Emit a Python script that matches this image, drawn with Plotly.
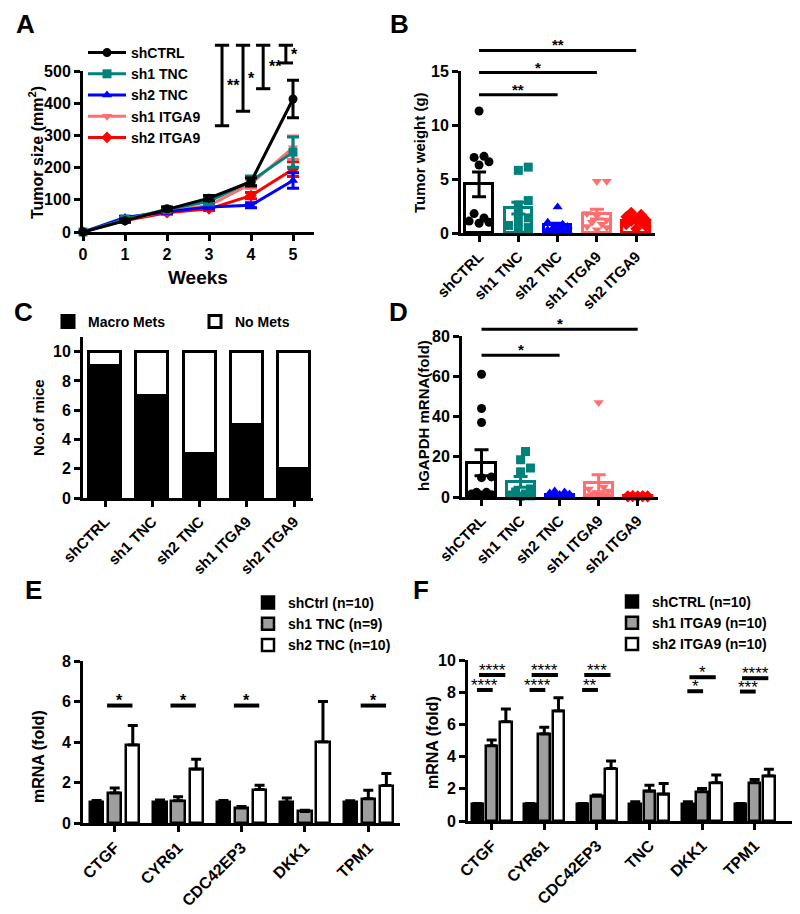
import plotly.graph_objects as go

W, H = 800, 914
FONT = "Liberation Sans, Arial, Helvetica, sans-serif"

# ---------------- shared group definitions ----------------
groups = ["shCTRL", "sh1 TNC", "sh2 TNC", "sh1 ITGA9", "sh2 ITGA9"]
group_colors = ["#000000", "#00827C", "#0000FF", "#FF6F6F", "#FF0000"]
group_symbols = ["circle", "square", "triangle-up", "triangle-down", "diamond"]

# ---------------- Panel A: tumor growth ----------------
weeks = [0, 1, 2, 3, 4, 5]
a_shCTRL = [0, 35, 72, 105, 156, 413]
a_sh1TNC = [0, 40, 70, 95, 158, 248]
a_sh2TNC = [0, 45, 63, 78, 83, 160]
a_sh1ITGA9 = [0, 38, 65, 82, 150, 262]
a_sh2ITGA9 = [0, 36, 60, 72, 113, 195]
a_sem_shCTRL = [0, 5, 6, 8, 12, 58]
a_sem_sh1TNC = [0, 5, 6, 10, 16, 47]
a_sem_sh2TNC = [0, 4, 5, 6, 8, 24]
a_sem_sh1ITGA9 = [0, 4, 5, 6, 14, 36]
a_sem_sh2ITGA9 = [0, 4, 5, 5, 10, 23]
a_sig_x = [3.31, 3.81, 4.29, 4.83]
a_sig_low = [330, 375, 445, 525]
a_sig_high = [580, 580, 580, 580]
a_sig_text = ["**", "*", "**", "*"]

# ---------------- Panel B: tumor weight ----------------
b_shCTRL = [11.3, 7.1, 7.0, 6.6, 6.3, 1.8, 1.4, 1.1, 1.0, 0.9]
b_sh1TNC = [6.1, 5.8, 3.0, 2.6, 1.8, 1.4, 1.0, 0.7, 0.5, 0.3]
b_sh2TNC = [2.4, 1.0, 0.8, 0.6, 0.5, 0.4, 0.3, 0.3, 0.2, 0.2]
b_sh1ITGA9 = [4.8, 4.8, 1.8, 1.6, 1.2, 1.0, 0.8, 0.6, 0.5, 0.3]
b_sh2ITGA9 = [1.9, 1.7, 1.5, 1.3, 1.2, 1.1, 1.0, 0.8, 0.6, 0.4]
b_mean = [4.5, 2.3, 0.7, 1.75, 1.15]
b_sem = [1.15, 0.55, 0.2, 0.45, 0.2]
b_sig_to = [2, 3, 4]
b_sig_y = [12.8, 14.85, 16.9]
b_sig_text = ["**", "*", "**"]

# ---------------- Panel C: metastases ----------------
c_macro = [9, 7, 3, 5, 2]
c_nomets = [1, 3, 7, 5, 8]

# ---------------- Panel D: hGAPDH ----------------
d_shCTRL = [61, 44, 37, 10, 9.6, 2.3, 2.3, 1.5, 1.1, 1.0]
d_sh1TNC = [22.6, 18.5, 14.4, 12.5, 4.0, 2.5, 1.5, 1.0, 0.6, 0.4]
d_sh2TNC = [3.0, 2.5, 2.0, 1.5, 1.2, 1.0, 0.8, 0.6, 0.4, 0.3]
d_sh1ITGA9 = [47, 5, 4, 3, 2, 1.5, 1.0, 0.8, 0.5, 0.3]
d_sh2ITGA9 = [0.6, 0.5, 0.5, 0.4, 0.4, 0.3, 0.3, 0.2, 0.2, 0.1]
d_mean = [17, 7.5, 1.1, 6.8, 0.35]
d_sem = [6.5, 2.7, 0.3, 4.2, 0.1]
d_sig_to = [2, 4]
d_sig_y = [70.4, 83.3]
d_sig_text = ["*", "*"]

# ---------------- Panel E: TNC knockdown qPCR ----------------
e_genes = ["CTGF", "CYR61", "CDC42EP3", "DKK1", "TPM1"]
e_series = ["shCtrl (n=10)", "sh1 TNC (n=9)", "sh2 TNC (n=10)"]
e_shCtrl = [1.05, 1.05, 1.05, 1.02, 1.05]
e_shCtrl_sem = [0.06, 0.08, 0.06, 0.22, 0.05]
e_sh1TNC = [1.48, 1.1, 0.74, 0.57, 1.2]
e_sh1TNC_sem = [0.25, 0.2, 0.07, 0.06, 0.42]
e_sh2TNC = [3.85, 2.65, 1.65, 4.0, 1.85]
e_sh2TNC_sem = [0.97, 0.5, 0.22, 2.0, 0.6]
e_sig_gene = [0, 1, 2, 4]
e_sig_y = [5.8, 5.8, 5.8, 5.8]
e_sig_text = ["*", "*", "*", "*"]

# ---------------- Panel F: ITGA9 knockdown qPCR ----------------
f_genes = ["CTGF", "CYR61", "CDC42EP3", "TNC", "DKK1", "TPM1"]
f_series = ["shCTRL (n=10)", "sh1 ITGA9 (n=10)", "sh2 ITGA9 (n=10)"]
f_shCTRL = [1.04, 1.04, 1.04, 1.04, 1.03, 1.05]
f_shCTRL_sem = [0.04, 0.04, 0.04, 0.16, 0.17, 0.03]
f_sh1ITGA9 = [4.67, 5.4, 1.54, 1.85, 1.81, 2.37]
f_sh1ITGA9_sem = [0.36, 0.42, 0.07, 0.37, 0.21, 0.21]
f_sh2ITGA9 = [6.17, 6.83, 3.26, 1.66, 2.37, 2.8]
f_sh2ITGA9_sem = [0.79, 0.83, 0.46, 0.67, 0.48, 0.42]
f_sig_gene = [0, 0, 1, 1, 2, 2, 4, 4, 5, 5]
f_sig_kind = ["low", "up", "low", "up", "low", "up", "low", "up", "low", "up"]
f_sig_y = [8.14, 9.07, 8.14, 9.07, 8.14, 9.07, 8.06, 8.93, 8.04, 8.87]
f_sig_text = ["****", "****", "****", "****", "**", "***", "*", "*", "***", "****"]

# ---------------- layout helpers ----------------
def xdom(left, right):
    return [left / W, right / W]


def ydom(top, bottom):
    return [1 - bottom / H, 1 - top / H]


def axis(tsize=15, **kw):
    d = dict(showline=True, linecolor="black", linewidth=3, ticks="outside",
             ticklen=6, tickwidth=3, tickcolor="black", showgrid=False,
             zeroline=False, fixedrange=True, automargin=False,
             tickfont=dict(family=FONT, size=tsize, color="black", weight="bold"))
    d.update(kw)
    return d


# panel geometry (pixel boxes) and value ranges
A_box = dict(x=(83, 314), y=(71, 232))
B_box = dict(x=(461, 655), y=(71, 233))
C_box = dict(x=(83, 313), y=(337, 498))
D_box = dict(x=(462, 658), y=(336, 497))
E_box = dict(x=(83, 400), y=(661, 823))
F_box = dict(x=(468, 792), y=(660, 821))

A_xr, A_yr = [0, 5.5], [0, 500]
B_xr, B_yr = [-0.46, 4.48], [0, 15]
C_xr, C_yr = [-0.47, 4.4], [0, 11]
D_xr, D_yr = [-0.5, 4.52], [0, 80]
E_xr, E_yr = [-0.5, 4.5], [0, 8]
F_xr, F_yr = [-0.45, 5.71], [0, 10]


def px_per_unit(box, rng, key):
    a, b = box[key]
    return (b - a) / (rng[1] - rng[0])


def swarm(vals, ppy, ppx, msize=9.0, maxoff=0.3):
    """Deterministic beeswarm offsets (in category units) for a column of points."""
    order = sorted(range(len(vals)), key=lambda i: vals[i])
    placed = []
    offs = [0.0] * len(vals)
    step = msize * 0.55
    cands = [0.0]
    for j in range(1, 30):
        cands += [j * step, -j * step]
    cands = [c for c in cands if abs(c) / ppx <= maxoff]
    for i in order:
        y = vals[i] * ppy
        best, bestd = 0.0, -1
        for c in cands:
            dmin = min([((c - px) ** 2 + (y - py) ** 2) ** 0.5 for px, py in placed] or [1e9])
            if dmin >= msize * 0.95:
                best = c
                break
            if dmin > bestd:
                bestd, best = dmin, c
        placed.append((best, y))
        offs[i] = best / ppx
    return offs


fig = go.Figure()

# ---------------- Panel A traces ----------------
a_vals = [a_shCTRL, a_sh1TNC, a_sh2TNC, a_sh1ITGA9, a_sh2ITGA9]
a_sems = [a_sem_shCTRL, a_sem_sh1TNC, a_sem_sh2TNC, a_sem_sh1ITGA9, a_sem_sh2ITGA9]
draw_order = [4, 3, 2, 1, 0]
for gi in draw_order:
    fig.add_trace(go.Scatter(
        x=weeks, y=a_vals[gi], mode="lines+markers", name=groups[gi],
        line=dict(color=group_colors[gi], width=3),
        marker=dict(symbol=group_symbols[gi], color=group_colors[gi], size=9),
        error_y=dict(type="data", array=a_sems[gi], color=group_colors[gi],
                     thickness=3, width=6),
        xaxis="x", yaxis="y", legend="legend", legendrank=gi + 1,
        cliponaxis=False,
    ))

# ---------------- Panel B traces ----------------
b_vals = [b_shCTRL, b_sh1TNC, b_sh2TNC, b_sh1ITGA9, b_sh2ITGA9]
for gi in range(5):
    fig.add_trace(go.Bar(
        x=[gi], y=[b_mean[gi]], width=0.7,
        marker=dict(color="rgba(255,255,255,0)", line=dict(color=group_colors[gi], width=3)),
        error_y=dict(type="data", array=[b_sem[gi]], symmetric=True,
                     color=group_colors[gi], thickness=3, width=7),
        xaxis="x2", yaxis="y2", showlegend=False))
bppy = px_per_unit(B_box, B_yr, "y")
bppx = px_per_unit(B_box, B_xr, "x")
for gi in range(5):
    offs = swarm(b_vals[gi], bppy, bppx)
    fig.add_trace(go.Scatter(
        x=[gi + o for o in offs], y=b_vals[gi], mode="markers",
        marker=dict(symbol=group_symbols[gi], color=group_colors[gi], size=9),
        xaxis="x2", yaxis="y2", showlegend=False, cliponaxis=False))

# ---------------- Panel C traces ----------------
cats = list(range(len(groups)))
fig.add_trace(go.Bar(
    x=cats, y=c_macro, width=0.68, name="Macro Mets",
    marker=dict(color="black", line=dict(color="black", width=3)),
    xaxis="x3", yaxis="y3", legend="legend2"))
fig.add_trace(go.Bar(
    x=cats, y=c_nomets, base=c_macro, width=0.68, name="No Mets",
    marker=dict(color="white", line=dict(color="black", width=3)),
    xaxis="x3", yaxis="y3", legend="legend2"))

# ---------------- Panel D traces ----------------
d_vals = [d_shCTRL, d_sh1TNC, d_sh2TNC, d_sh1ITGA9, d_sh2ITGA9]
for gi in range(5):
    fig.add_trace(go.Bar(
        x=[gi], y=[d_mean[gi]], width=0.72,
        marker=dict(color="rgba(255,255,255,0)", line=dict(color=group_colors[gi], width=3)),
        error_y=dict(type="data", array=[d_sem[gi]], symmetric=True,
                     color=group_colors[gi], thickness=3, width=7),
        xaxis="x4", yaxis="y4", showlegend=False))
dppy = px_per_unit(D_box, D_yr, "y")
dppx = px_per_unit(D_box, D_xr, "x")
for gi in range(5):
    offs = swarm(d_vals[gi], dppy, dppx)
    fig.add_trace(go.Scatter(
        x=[gi + o for o in offs], y=d_vals[gi], mode="markers",
        marker=dict(symbol=group_symbols[gi], color=group_colors[gi], size=9),
        xaxis="x4", yaxis="y4", showlegend=False, cliponaxis=False))

# ---------------- Panel E traces ----------------
bar_fills = ["black", "#9E9E9E", "white"]
e_means = [e_shCtrl, e_sh1TNC, e_sh2TNC]
e_sems = [e_shCtrl_sem, e_sh1TNC_sem, e_sh2TNC_sem]
e_off = [-0.285, 0.0, 0.285]
for si in range(3):
    fig.add_trace(go.Bar(
        x=[k + e_off[si] for k in range(len(e_genes))], y=e_means[si], width=0.21,
        name=e_series[si],
        marker=dict(color=bar_fills[si], line=dict(color="black", width=2.5)),
        error_y=dict(type="data", array=e_sems[si], arrayminus=[0] * len(e_genes),
                     symmetric=False, color="black", thickness=3, width=5),
        xaxis="x5", yaxis="y5", legend="legend3"))

# ---------------- Panel F traces ----------------
f_means = [f_shCTRL, f_sh1ITGA9, f_sh2ITGA9]
f_sems = [f_shCTRL_sem, f_sh1ITGA9_sem, f_sh2ITGA9_sem]
f_off = [-0.27, 0.0, 0.27]
for si in range(3):
    fig.add_trace(go.Bar(
        x=[k + f_off[si] for k in range(len(f_genes))], y=f_means[si], width=0.22,
        name=f_series[si],
        marker=dict(color=bar_fills[si], line=dict(color="black", width=2.5)),
        error_y=dict(type="data", array=f_sems[si], arrayminus=[0] * len(f_genes),
                     symmetric=False, color="black", thickness=3, width=5),
        xaxis="x6", yaxis="y6", legend="legend4"))

# ---------------- axes ----------------
fig.update_layout(
    xaxis=axis(domain=xdom(*A_box["x"]), range=A_xr, anchor="y", tsize=16,
               tickvals=weeks, ticktext=[str(w) for w in weeks]),
    yaxis=axis(domain=ydom(*A_box["y"]), range=A_yr, anchor="x", tsize=16,
               tickvals=[0, 100, 200, 300, 400, 500]),
    xaxis2=axis(domain=xdom(*B_box["x"]), range=B_xr, anchor="y2",
                tickvals=cats, ticktext=groups, tickangle=-45),
    yaxis2=axis(domain=ydom(*B_box["y"]), range=B_yr, anchor="x2", tsize=16,
                tickvals=[0, 5, 10, 15]),
    xaxis3=axis(domain=xdom(*C_box["x"]), range=C_xr, anchor="y3",
                tickvals=cats, ticktext=groups, tickangle=-45),
    yaxis3=axis(domain=ydom(*C_box["y"]), range=C_yr, anchor="x3", tsize=16,
                tickvals=[0, 2, 4, 6, 8, 10]),
    xaxis4=axis(domain=xdom(*D_box["x"]), range=D_xr, anchor="y4",
                tickvals=cats, ticktext=groups, tickangle=-45),
    yaxis4=axis(domain=ydom(*D_box["y"]), range=D_yr, anchor="x4", tsize=16,
                tickvals=[0, 20, 40, 60, 80]),
    xaxis5=axis(domain=xdom(*E_box["x"]), range=E_xr, anchor="y5", tsize=16,
                tickvals=list(range(len(e_genes))), ticktext=e_genes, tickangle=-45),
    yaxis5=axis(domain=ydom(*E_box["y"]), range=E_yr, anchor="x5", tsize=16,
                tickvals=[0, 2, 4, 6, 8]),
    xaxis6=axis(domain=xdom(*F_box["x"]), range=F_xr, anchor="y6", tsize=16,
                tickvals=list(range(len(f_genes))), ticktext=f_genes, tickangle=-45),
    yaxis6=axis(domain=ydom(*F_box["y"]), range=F_yr, anchor="x6", tsize=16,
                tickvals=[0, 2, 4, 6, 8, 10]),
)

# ---------------- significance marks ----------------
shapes = []
annots = []


def seg(xref, yref, x0, x1, y0, y1, w=3):
    shapes.append(dict(type="line", xref=xref, yref=yref, x0=x0, x1=x1, y0=y0, y1=y1,
                       line=dict(color="black", width=w), layer="above"))


def star(xref, yref, x, y, text, size=15, yshift=0, xanchor="center", yanchor="bottom", bold=True):
    annots.append(dict(xref=xref, yref=yref, x=x, y=y, text=text, showarrow=False,
                       xanchor=xanchor, yanchor=yanchor, yshift=yshift,
                       font=dict(family=FONT, size=size, color="black",
                                 weight="bold" if bold else "normal")))


# Panel A brackets (y in axis-domain fraction so they can sit above the axis)
cap = 0.17
for x, lo, hi, t in zip(a_sig_x, a_sig_low, a_sig_high, a_sig_text):
    f0, f1 = lo / A_yr[1], hi / A_yr[1]
    seg("x", "y domain", x, x, f0, f1)
    seg("x", "y domain", x - cap, x + cap, f0, f0)
    seg("x", "y domain", x - cap, x + cap, f1, f1)
    star("x", "y domain", x + 0.08, (f0 + f1) / 2, t, size=16, xanchor="left", yanchor="middle")

# Panel B
for to, yv, t in zip(b_sig_to, b_sig_y, b_sig_text):
    f = yv / B_yr[1]
    seg("x2", "y2 domain", 0, to, f, f)
    star("x2", "y2 domain", to / 2, f, t, size=15, yshift=-5)

# Panel D
for to, yv, t in zip(d_sig_to, d_sig_y, d_sig_text):
    f = yv / D_yr[1]
    seg("x4", "y4 domain", 0, to, f, f)
    star("x4", "y4 domain", to / 2, f, t, size=15, yshift=-5)

# Panel E
for g, yv, t in zip(e_sig_gene, e_sig_y, e_sig_text):
    f = yv / E_yr[1]
    seg("x5", "y5 domain", g - 0.12, g + 0.28, f, f, w=4)
    star("x5", "y5 domain", g + 0.08, f, t, size=16, yshift=-5)

# Panel F
for g, kind, yv, t in zip(f_sig_gene, f_sig_kind, f_sig_y, f_sig_text):
    f = yv / F_yr[1]
    x0, x1 = (g - 0.28, g + 0.02) if kind == "low" else (g - 0.24, g + 0.26)
    seg("x6", "y6 domain", x0, x1, f, f, w=4)
    star("x6", "y6 domain", (x0 + x1) / 2, f, t, size=17, yshift=-7, bold=False)

# ---------------- panel letters & axis titles ----------------
def ptext(x, y, text, size, angle=0):
    annots.append(dict(xref="paper", yref="paper", x=x / W, y=1 - y / H, text=text,
                       showarrow=False, xanchor="center", yanchor="middle", textangle=angle,
                       font=dict(family=FONT, size=size, color="black", weight="bold")))


for letter, lx, ly in [("A", 25, 24), ("B", 399, 24), ("C", 23, 312),
                       ("D", 398, 312), ("E", 33, 590), ("F", 421, 590)]:
    ptext(lx, ly, letter, 26)

ptext(198, 277, "Weeks", 19)
ptext(36, 153, "Tumor size (mm<sup>2</sup>)", 16, -90)
ptext(419, 153, "Tumor weight (g)", 15, -90)
ptext(38, 418, "No.of mice", 15, -90)
ptext(423, 416, "hGAPDH mRNA(fold)", 15, -90)
ptext(38, 757, "mRNA (fold)", 16, -90)
ptext(432, 743, "mRNA (fold)", 16, -90)

# ---------------- legends ----------------
leg_common = dict(bgcolor="rgba(0,0,0,0)", borderwidth=0, xanchor="left", yanchor="top",
                  font=dict(family=FONT, size=14, color="black", weight="bold"))
fig.update_layout(
    legend=dict(x=83 / W, y=1 - 37 / H, itemwidth=38, **leg_common),
    legend2=dict(x=48 / W, y=1 - 306 / H, orientation="h", entrywidth=102,
                 entrywidthmode="pixels", **leg_common),
    legend3=dict(x=248 / W, y=1 - 587 / H, **leg_common),
    legend4=dict(x=612 / W, y=1 - 586 / H, **leg_common),
)

fig.update_layout(
    width=W, height=H, margin=dict(l=0, r=0, t=0, b=0, autoexpand=False),
    paper_bgcolor="white", plot_bgcolor="white",
    font=dict(family=FONT, color="black"),
    barmode="overlay", bargap=0,
    shapes=shapes, annotations=annots,
)

# remove the browser's default 8px page margin so the 800x914 figure fills the window
fig.write_html("out.html", config={"displayModeBar": False},
               post_script="document.body.style.margin='0';")
